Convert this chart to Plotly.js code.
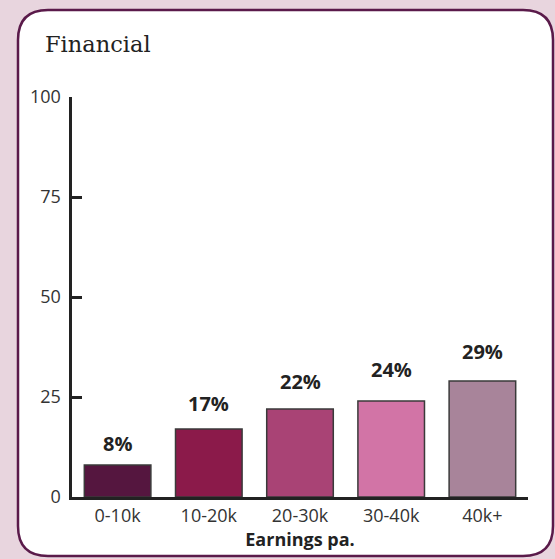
<!DOCTYPE html>
<html><head><meta charset="utf-8">
<script src="https://cdn.plot.ly/plotly-3.0.1.min.js"></script>
<style>html,body{margin:0;padding:0;background:#e8d5de;}#c{width:555px;height:559px;}</style>
</head><body><div id="c"></div>
<script>
const categories = ["0-10k","10-20k","20-30k","30-40k","40k+"];
const values = [8,17,22,24,29];
const labels = ["8%","17%","22%","24%","29%"];
const colors = ["#55163f","#8b1a4a","#a94375","#d274a6","#a8849a"];
const yTicks = [0,25,50,75,100];

const W=555,H=559, L=72, R=528, T=97, B=497;
const px = x => (x-L)/(R-L);
const py = y => (B-y)/(B-T);
function rr(x0,y0,x1,y1,r){
  const p=[];
  p.push(`M ${px(x0+r)} ${py(y0)}`);
  p.push(`L ${px(x1-r)} ${py(y0)}`);
  p.push(`Q ${px(x1)} ${py(y0)} ${px(x1)} ${py(y0+r)}`);
  p.push(`L ${px(x1)} ${py(y1-r)}`);
  p.push(`Q ${px(x1)} ${py(y1)} ${px(x1-r)} ${py(y1)}`);
  p.push(`L ${px(x0+r)} ${py(y1)}`);
  p.push(`Q ${px(x0)} ${py(y1)} ${px(x0)} ${py(y1-r)}`);
  p.push(`L ${px(x0)} ${py(y0+r)}`);
  p.push(`Q ${px(x0)} ${py(y0)} ${px(x0+r)} ${py(y0)} Z`);
  return p.join(' ');
}

const trace = {
  type:'bar', x:categories, y:values,
  marker:{color:colors, line:{color:'#3a3a3a', width:1.5}},
  hoverinfo:'none'
};
const labelLift = [6,10,12,16,14];
const annotations = categories.map((c,i)=>({
  x:c, y:values[i], xref:'x', yref:'y', text:'<b>'+labels[i]+'</b>',
  showarrow:false, yanchor:'bottom', yshift:labelLift[i],
  font:{family:'Open Sans, sans-serif', size:20, color:'#222'}
}));
annotations.push({
  xref:'paper', yref:'paper', x:px(43), y:py(44), xanchor:'left', yanchor:'middle',
  text:'Financial', showarrow:false,
  font:{family:'DejaVu Serif, serif', size:22.5, color:'#222'}
});

const layout = {
  width:W, height:H,
  margin:{l:L, r:W-R, t:T, b:H-B, pad:0},
  paper_bgcolor:'#e8d5de', plot_bgcolor:'rgba(0,0,0,0)',
  bargap:0.27,
  showlegend:false,
  xaxis:{
    showline:true, linecolor:'#222', linewidth:3, ticks:'', showgrid:false, zeroline:false,
    tickfont:{family:'Open Sans, sans-serif', size:18, color:'#333'},
    title:{text:'<b>Earnings pa.</b>', font:{family:'Open Sans, sans-serif', size:18, color:'#222'}, standoff:0}
  },
  yaxis:{
    range:[0,100], tickvals:yTicks, showline:true, linecolor:'#222', linewidth:3.5,
    ticks:'inside', ticklen:10, tickwidth:3, tickcolor:'#222', showgrid:false, zeroline:false,
    tickfont:{family:'Open Sans, sans-serif', size:18, color:'#333'}, ticklabelstandoff:4
  },
  shapes:[{
    type:'path', xref:'paper', yref:'paper', layer:'below',
    path: rr(18,10,553,556,30), fillcolor:'#ffffff', line:{color:'#5a1a4a', width:2.5}
  }],
  annotations:annotations
};
Plotly.newPlot('c',[trace],layout,{staticPlot:true});
</script></body></html>
